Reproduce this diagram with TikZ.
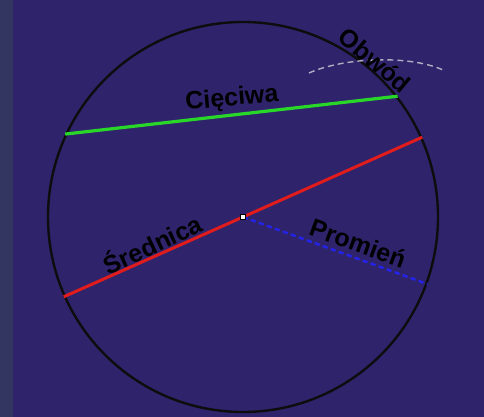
\documentclass[tikz,border=0pt]{standalone}
\usepackage{fontspec}
\setmainfont{Liberation Sans}
\usetikzlibrary{positioning}

\begin{document}
\begin{tikzpicture}[
    x=1pt, y=-1pt,
    tag/.style = {font=\bfseries\fontsize{25}{25}\selectfont, text=black, inner sep=0pt},
    rim/.style = {circle, draw=black!95, line width=2.4pt, minimum size=390pt, inner sep=0pt},
    chordline/.style = {draw=chordgreen, line width=3.2pt},
    diamline/.style = {draw=diamred, line width=3pt},
    radline/.style = {draw=radblue, dash pattern=on 5pt off 3.5pt, line width=2.4pt},
    pointer/.style = {draw=pointgray, dash pattern=on 6pt off 4pt, line width=1.4pt},
    hub/.style = {rectangle, fill=white, draw=black, line width=1pt, minimum size=5pt, inner sep=0pt}
]
    % Colors definition
    \definecolor{bgindigo}{RGB}{47, 35, 108}
    \definecolor{bgslate}{RGB}{52, 54, 98}
    \definecolor{chordgreen}{RGB}{40, 215, 40}
    \definecolor{diamred}{RGB}{225, 28, 28}
    \definecolor{radblue}{RGB}{35, 35, 235}
    \definecolor{pointgray}{RGB}{175, 175, 195}

    % Background
    \fill[bgindigo] (0,0) rectangle (484,417);
    \fill[bgslate] (0,0) rectangle (13,417);
    \useasboundingbox (0,0) rectangle (484,417);

    % Nodes
    \node (circ) [rim] at (243,217) {};
    \coordinate (arcstart) at (309,73);
    \coordinate (arcend) at (443,70);

    % Connections
    \draw [chordline] (circ.155) -- (circ.38);
    \draw [diamline] (circ.204) -- (circ.24);
    \draw [radline] (circ.center) -- (circ.-20);
    \draw [pointer] (arcstart) .. controls (345,57) and (410,55) .. (arcend);
    \node (mid) [hub] at (circ.center) {};

    % Labels
    \node (chordlbl) [tag, rotate=5] at (232,99) {Cięciwa};
    \node (diamlbl) [tag, rotate=25] at (152,243) {Średnica};
    \node (radlbl) [tag, rotate=-20] at (358,243) {Promień};
    \node (rimlbl) [tag, rotate=-40] at (375,60) {Obwód};
\end{tikzpicture}
\end{document}
